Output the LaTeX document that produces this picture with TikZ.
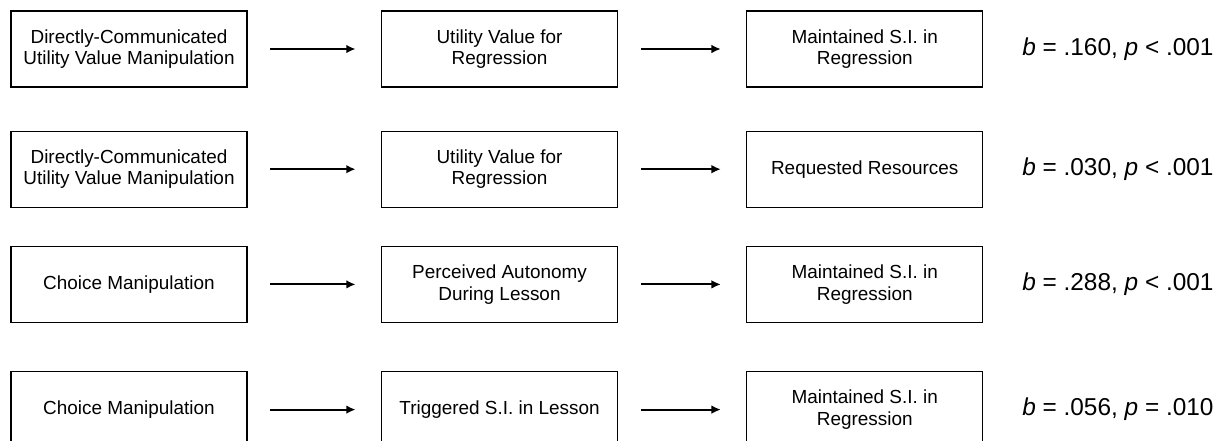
\documentclass[tikz,border=0pt]{standalone}
\usepackage{fontspec}
\setmainfont{Liberation Sans}
\usetikzlibrary{positioning,arrows.meta}

\tikzset{
  boxnode/.style={draw,line width=0.9pt,minimum width=177pt,minimum height=57pt,align=center,
    font=\fontsize{14.2}{16.3}\selectfont},
  arr/.style={-{Latex[length=7pt,width=6.5pt]},line width=1.4pt,shorten <=17pt,shorten >=19pt},
  stat/.style={inner sep=0pt,font=\fontsize{18.3}{22}\selectfont}
}

\begin{document}
\begin{tikzpicture}[node distance=32.25pt and 100pt]
				\useasboundingbox (0,0) rectangle (916.5pt,-330pt);
				% first column
				\node [boxnode] (a1) at (96.75pt,-36.75pt) {Directly-Communicated\\Utility Value Manipulation};
				\node [boxnode,below=of a1] (a2) {Directly-Communicated\\Utility Value Manipulation};
				\node [boxnode,below=28.5pt of a2] (a3) {Choice Manipulation};
				\node [boxnode,below=36pt of a3] (a4) {Choice Manipulation};
				% mediators
				\node [boxnode,right=of a1] (b1) {Utility Value for\\Regression};
				\node [boxnode,right=of a2] (b2) {Utility Value for\\Regression};
				\node [boxnode,right=of a3] (b3) {Perceived Autonomy\\During Lesson};
				\node [boxnode,right=of a4] (b4) {Triggered S.I. in Lesson};
				% outcomes
				\node [boxnode,right=96pt of b1] (c1) {Maintained S.I. in\\Regression};
				\node [boxnode,right=96pt of b2] (c2) {Requested Resources};
				\node [boxnode,right=96pt of b3] (c3) {Maintained S.I. in\\Regression};
				\node [boxnode,right=96pt of b4] (c4) {Maintained S.I. in\\Regression};
				% arrows along each row
				\draw [arr] (a1) -- (b1);
				\draw [arr] (b1) -- (c1);
				\draw [arr] (a2) -- (b2);
				\draw [arr] (b2) -- (c2);
				\draw [arr] (a3) -- (b3);
				\draw [arr] (b3) -- (c3);
				\draw [arr] (a4) -- (b4);
				\draw [arr] (b4) -- (c4);
				% estimates
				\node [stat,right=29pt of c1] (s1) {\textit{b} = .160, \textit{p} < .001};
				\node [stat,right=29pt of c2] (s2) {\textit{b} = .030, \textit{p} < .001};
				\node [stat,right=29pt of c3] (s3) {\textit{b} = .288, \textit{p} < .001};
				\node [stat,right=29pt of c4] (s4) {\textit{b} = .056, \textit{p} = .010};
			\end{tikzpicture}
\end{document}
